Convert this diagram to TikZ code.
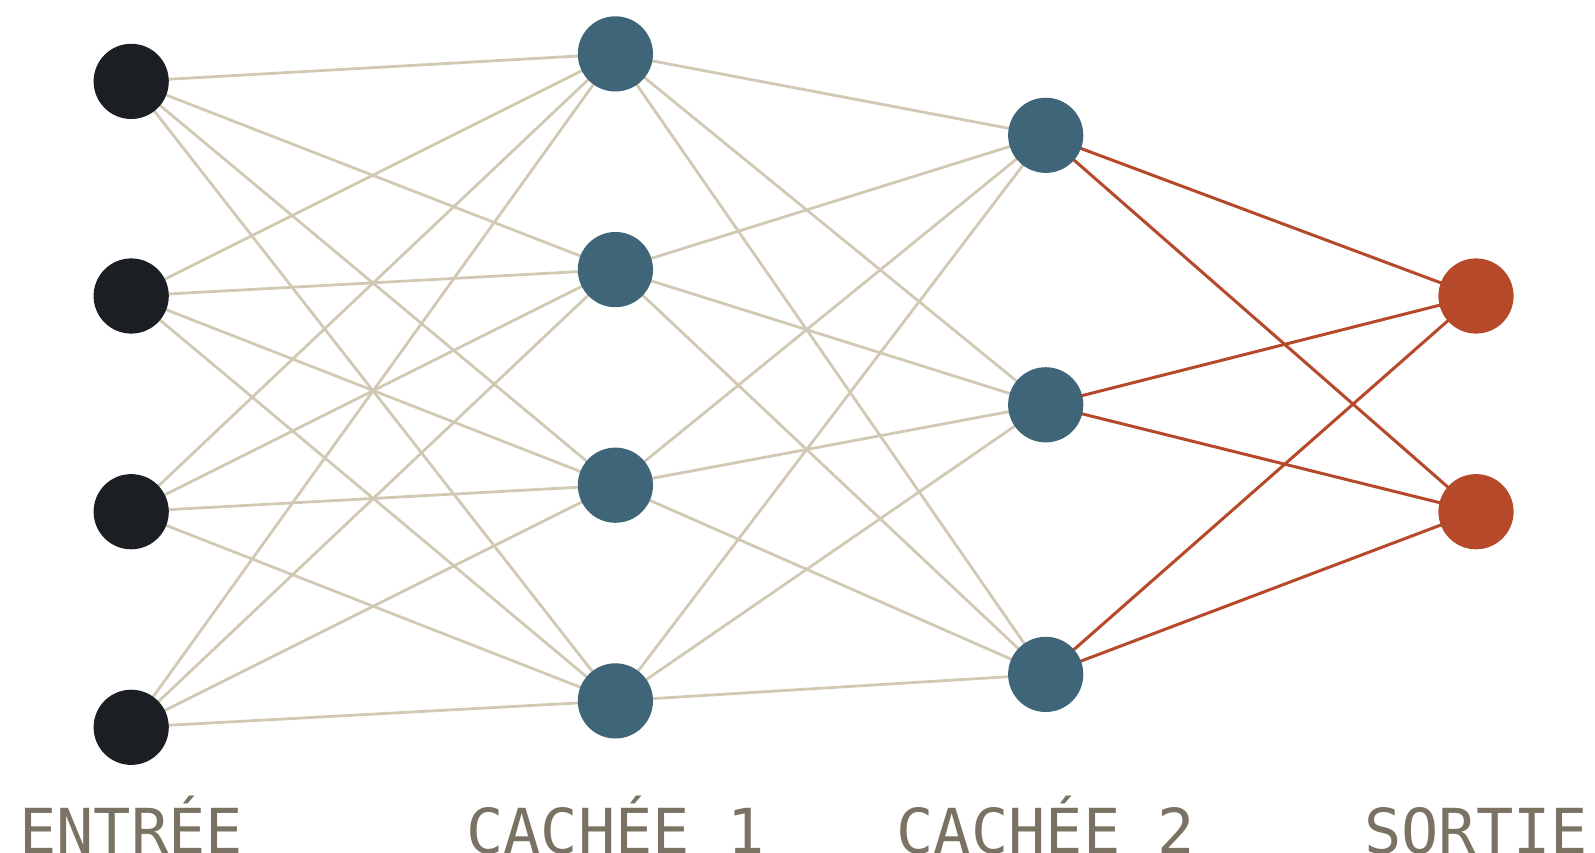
\documentclass[tikz,border=0pt]{standalone}
\usepackage{fontspec}
\newfontfamily\labelfont{DejaVu Sans Mono}
\definecolor{inkdark}{HTML}{1B1E23}
\definecolor{hiddenblue}{HTML}{3F6578}
\definecolor{outred}{HTML}{B5492A}
\definecolor{wireBeige}{HTML}{D2C9B5}
\definecolor{labelgray}{HTML}{7A7262}
\pgfdeclarelayer{wires}
\pgfsetlayers{wires,main}
\tikzset{
  neuron/.style={circle, minimum size=75.2pt, inner sep=0pt, draw=none},
  inneuron/.style={neuron, fill=inkdark},
  hidneuron/.style={neuron, fill=hiddenblue},
  outneuron/.style={neuron, fill=outred},
  wire/.style={draw=wireBeige, line width=2.8pt},
  outwire/.style={draw=outred, line width=3pt},
  layerlabel/.style={font=\labelfont\fontsize{62}{62}\selectfont, text=labelgray, anchor=base, inner sep=0pt}
}
\begin{document}
\begin{tikzpicture}[x=1pt, y=-1pt]
\useasboundingbox (0,0) rectangle (1595,853);

% input layer
\node[inneuron] (i1) at (131.2, 81.4) {};
\node[inneuron] (i2) at (131.2, 296.0) {};
\node[inneuron] (i3) at (131.2, 511.7) {};
\node[inneuron] (i4) at (131.2, 727.3) {};
% first hidden layer
\node[hidneuron] (a1) at (615.4, 53.9) {};
\node[hidneuron] (a2) at (615.4, 269.6) {};
\node[hidneuron] (a3) at (615.4, 485.2) {};
\node[hidneuron] (a4) at (615.4, 700.9) {};
% second hidden layer
\node[hidneuron] (b1) at (1045.7, 135.3) {};
\node[hidneuron] (b2) at (1045.7, 404.8) {};
\node[hidneuron] (b3) at (1045.7, 674.4) {};
% output layer
\node[outneuron] (o1) at (1476.0, 296.0) {};
\node[outneuron] (o2) at (1476.0, 511.7) {};

% connections, drawn on a layer beneath the neurons
\begin{pgfonlayer}{wires}
\foreach \s in {i1,i2,i3,i4}
  \foreach \t in {a1,a2,a3,a4}
    \draw[wire] (\s.center) -- (\t.center);
\foreach \s in {a1,a2,a3,a4}
  \foreach \t in {b1,b2,b3}
    \draw[wire] (\s.center) -- (\t.center);
\foreach \s in {b1,b2,b3}
  \foreach \t in {o1,o2}
    \draw[outwire] (\s.center) -- (\t.center);
\end{pgfonlayer}

% layer captions
\node[layerlabel] (lin) at (131.2, 853) {ENTRÉE};
\node[layerlabel] (lh1) at (615.4, 853) {CACHÉE 1};
\node[layerlabel] (lh2) at (1045.7, 853) {CACHÉE 2};
\node[layerlabel] (lout) at (1476.0, 853) {SORTIE};
\end{tikzpicture}
\end{document}
